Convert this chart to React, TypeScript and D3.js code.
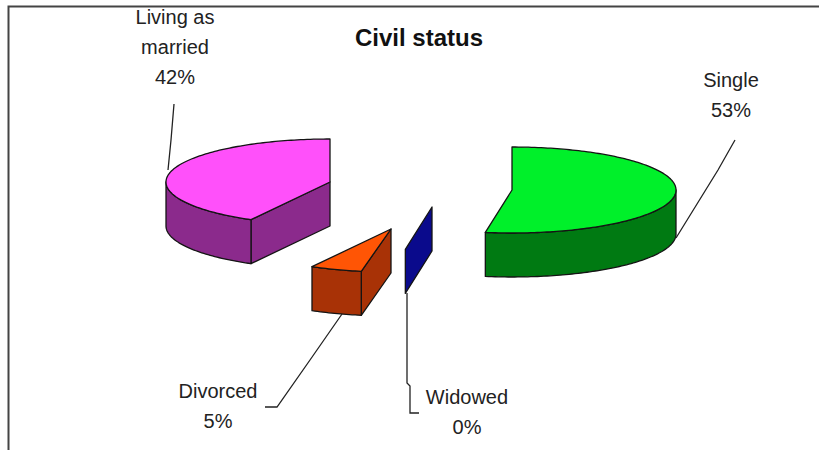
import React from "react";
import * as d3 from "d3";

const categories = ["Single", "Widowed", "Divorced", "Living as married"];
const values = [52.6, 0.3, 5.1, 42];
const topColors = ["#00f02a", "#0a0a8c", "#ff5505", "#ff50fa"];
const wallColors = ["#007a12", "#0a0a8c", "#a83206", "#8b2a8c"];

const centers: [number, number][] = [[512, 190], [432, 207], [391, 229], [330, 182]];
const labelLines = [["Single"], ["Widowed"], ["Divorced"], ["Living as", "married"]];
const labelPos: [number, number][] = [[731, 87], [467, 404], [218, 398], [175, 24]];
const leaders: [number, number][][] = [
  [[735, 140], [718, 170], [676, 238]],
  [[407, 293], [407, 383], [410, 386], [410, 413], [419, 413]],
  [[265, 407], [277, 407], [310, 360], [342, 314]],
  [[174, 104], [171, 140], [168, 170]],
];

const RX = 164, RY = 43, DEPTH = 44;
const pie = d3.pie<number>().sort(null).value((d) => d);
const line = d3.line();
const pt = (c: [number, number], a: number, dy = 0): [number, number] => [
  c[0] + RX * Math.sin(a),
  c[1] - RY * Math.cos(a) + dy,
];
const sweep = (a0: number, a1: number) => {
  const n = Math.max(2, Math.ceil(Math.abs(a1 - a0) / 0.02));
  return d3.range(n + 1).map((i) => a0 + ((a1 - a0) * i) / n);
};

export default function App() {
  const arcs = pie(values);
  const font = "'Liberation Sans', Arial, sans-serif";
  const stroke = "#141414";
  const order = [3, 2, 1, 0];
  return (
    <svg width={819} height={450} style={{ position: "absolute", left: 0, top: 0, background: "#fff" }}>
      <path d="M8.5 450V6.5H819" fill="none" stroke="#444" strokeWidth={2} />
      <text x={419} y={46} textAnchor="middle" fontFamily={font} fontWeight="bold" fontSize={24} fill="#111">Civil status</text>
      {order.map((i) => {
        const s = arcs[i];
        const c = centers[i];
        const zero = s.endAngle - s.startAngle < 0.05;
        const rimA0 = Math.max(s.startAngle, Math.PI / 2);
        const rimA1 = Math.min(s.endAngle, (3 * Math.PI) / 2);
        const rimTop = sweep(rimA0, rimA1).map((a) => pt(c, a));
        const rimBot = sweep(rimA1, rimA0).map((a) => pt(c, a, DEPTH));
        const e = pt(c, s.startAngle);
        const wall: [number, number][] = [c, e, [e[0], e[1] + DEPTH], [c[0], c[1] + DEPTH]];
        const top: [number, number][] = [c, ...sweep(s.startAngle, s.endAngle).map((a) => pt(c, a))];
        return (
          <g key={categories[i]} stroke={stroke} strokeWidth={1.3} strokeLinejoin="round">
            {s.startAngle > Math.PI && <path d={line(wall) + "Z"} fill={wallColors[i]} />}
            {!zero && <path d={line([...rimTop, ...rimBot]) + "Z"} fill={wallColors[i]} />}
            {!zero && <path d={line(top) + "Z"} fill={topColors[i]} />}
          </g>
        );
      })}
      {leaders.map((l, i) => (
        <path key={i} d={line(l) ?? ""} fill="none" stroke="#222" strokeWidth={1.3} />
      ))}
      {categories.map((cat, i) => {
        const lines = [...labelLines[i], `${d3.format(".0f")(values[i])}%`];
        return (
          <text key={cat} textAnchor="middle" fontFamily={font} fontSize={20} fill="#222">
            {lines.map((t, j) => (
              <tspan key={j} x={labelPos[i][0]} y={labelPos[i][1] + j * 30}>{t}</tspan>
            ))}
          </text>
        );
      })}
    </svg>
  );
}
